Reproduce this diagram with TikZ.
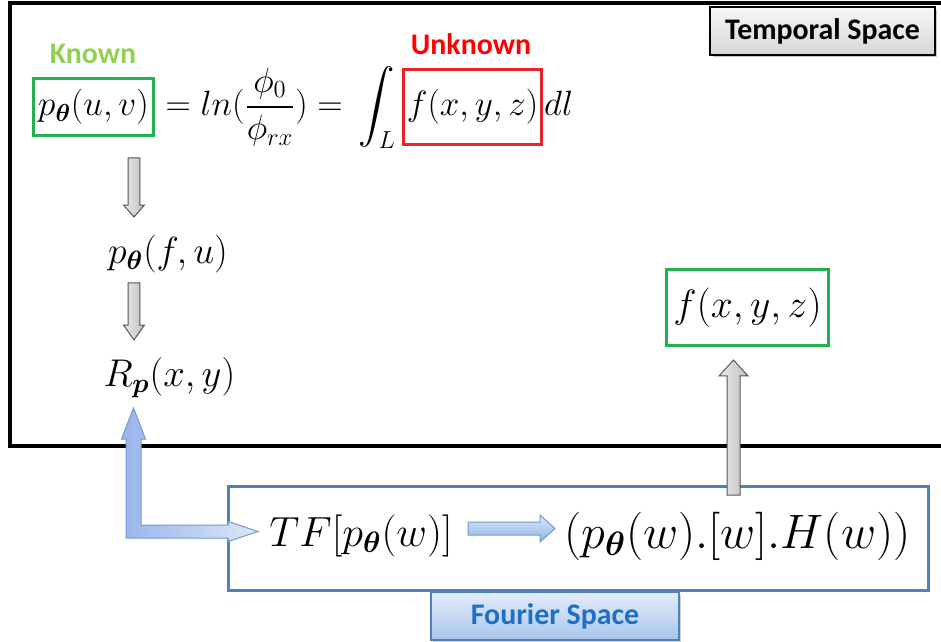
\RequirePackage{fix-cm}
\documentclass[tikz,border=0pt]{standalone}
\usepackage{fontspec}
\usepackage{amsmath}
\usepackage{bm}
\newfontfamily\calibfont{Carlito}
\usetikzlibrary{calc, positioning, shadows}
\definecolor{box-green}{HTML}{22B14C}
\definecolor{known-green}{HTML}{92D050}
\definecolor{box-red}{HTML}{E8232B}
\definecolor{unknown-red}{HTML}{FF0000}
\definecolor{fourier-blue}{HTML}{4F81BD}
\definecolor{fourier-text}{HTML}{1F6FC2}
\definecolor{tab-top}{HTML}{E3ECFA}
\definecolor{tab-bottom}{HTML}{A9C5EE}
\definecolor{arrow-dark}{HTML}{8DB3E2}
\definecolor{arrow-light}{HTML}{DDE8F8}
\definecolor{arrow-border}{HTML}{6C9BD2}
\definecolor{gray-light}{HTML}{EDEDED}
\definecolor{gray-dark}{HTML}{BDBDBD}
\definecolor{gray-border}{HTML}{555555}
% hollow block arrow: style, from, to, shaft half width, head half width, head length
\newcommand{\blockarrow}[6]{%
  \path[#1] ($(#2)!#4!90:(#3)$)
    -- ($(#3)!#6!(#2)!#4!-90:(#2)$)
    -- ($(#3)!#6!(#2)!#5!-90:(#2)$)
    -- (#3)
    -- ($(#3)!#6!(#2)!#5!90:(#2)$)
    -- ($(#3)!#6!(#2)!#4!90:(#2)$)
    -- ($(#2)!#4!-90:(#3)$) -- cycle;}
\tikzset{
  formula/.style={inner sep=0pt, font=\fontsize{#1}{#1}\selectfont},
  knownbox/.style={
    draw=box-green, line width=0.06cm, inner sep=0pt,
    minimum width=2.42cm, minimum height=1.16cm, font=\fontsize{20}{24}\selectfont
  },
  unknownbox/.style={
    draw=box-red, line width=0.06cm, inner xsep=0.06cm, inner ysep=0pt,
    minimum height=1.5cm, font=\fontsize{20}{24}\selectfont
  },
  resultbox/.style={
    draw=box-green, line width=0.06cm, inner sep=0pt,
    minimum width=3.26cm, minimum height=1.54cm, font=\fontsize{22.5}{27}\selectfont
  },
  tag/.style={font=\calibfont\bfseries\fontsize{17}{20}\selectfont, inner sep=0pt},
  spacetab/.style={
    draw=black, line width=0.03cm, top color=gray!6, bottom color=gray!32,
    minimum width=4.5cm, minimum height=0.96cm,
    drop shadow={opacity=0.45, shadow xshift=0.05cm, shadow yshift=-0.05cm},
    font=\calibfont\bfseries\fontsize{17}{20}\selectfont
  },
  fouriertab/.style={
    draw=fourier-blue, line width=0.03cm, top color=tab-top, bottom color=tab-bottom,
    minimum width=4.96cm, minimum height=0.96cm, text=fourier-text,
    drop shadow={opacity=0.35, shadow xshift=0.04cm, shadow yshift=-0.05cm},
    font=\calibfont\bfseries\fontsize{17}{20}\selectfont
  },
  grayarrow/.style={draw=gray-border, line width=0.02cm, left color=gray-light, right color=gray-dark},
  bluearrow/.style={draw=arrow-border, line width=0.02cm, top color=arrow-light, bottom color=arrow-dark},
  lshaft/.style={draw=arrow-border, line width=0.02cm, left color=arrow-dark!90!blue!80!white, right color=arrow-light}
}
\begin{document}
\begin{tikzpicture}[x=0.02cm, y=-0.02cm]
  \useasboundingbox (0,0) rectangle (941,642);

  % ---- temporal space frame ------------------------------------------------
  \draw[line width=0.07cm] (10,3) rectangle (960,446);
  \node[spacetab] (temporal) at (822.5,31) {Temporal Space};

  % ---- projection equation -------------------------------------------------
  \node[knownbox] (pu) at (93.5,107) {$p_{\bm{\theta}}(u,v)$};
  \node[formula=20, anchor=base west] (lneq) at (pu.base east)
        {$\displaystyle {}= ln(\frac{\phi_0}{\phi_{rx}}) = \,\int_L$};
  \node[unknownbox, anchor=base west] (fint) at ([xshift=0.12cm]lneq.base east) {$f(x,y,z)$};
  \node[formula=20, anchor=base west] (dl) at ([xshift=0.02cm]fint.base east) {$dl$};
  \node[tag, text=known-green] (known) at (93,54) {Known};
  \node[tag, text=unknown-red] (unknown) at (471,44) {Unknown};

  % ---- left column ---------------------------------------------------------
  \node[formula=21.5] (pfu) at (168,254) {$p_{\bm{\theta}}(f,u)$};
  \node[formula=22] (rp) at (169.5,377.5) {$R_{\bm{p}}(x,y)$};
  \coordinate (d1s) at (134,158);
  \coordinate (d1e) at (134,217);
  \coordinate (d2s) at (134,283);
  \coordinate (d2e) at (134,340);
  \blockarrow{grayarrow}{d1s}{d1e}{0.12cm}{0.21cm}{0.24cm}
  \blockarrow{grayarrow}{d2s}{d2e}{0.12cm}{0.21cm}{0.30cm}

  % ---- reconstruction ------------------------------------------------------
  \node[resultbox] (fxyz) at (747.5,307.5) {$f(x,y,z)$};

  % ---- fourier space -------------------------------------------------------
  \node[draw=fourier-blue, line width=0.06cm, minimum width=14.02cm, minimum height=2.1cm]
        (fourier) at (578.5,538.5) {};
  \node[formula=24] (tf) at (361,536) {$TF[p_{\bm{\theta}}(w)]$};
  \node[formula=27.5, anchor=west] (filt) at (564,536) {$(p_{\bm{\theta}}(w).[w].H(w))$};
  \node[fouriertab] (ftab) at (555,616) {Fourier Space};

  \coordinate (bs) at (468,528.5);
  \coordinate (be) at (555,528.5);
  \blockarrow{bluearrow}{bs}{be}{0.13cm}{0.27cm}{0.30cm}

  \coordinate (us) at (733.5,495);
  \coordinate (ue) at (733.5,360);
  \blockarrow{grayarrow}{us}{ue}{0.13cm}{0.29cm}{0.32cm}

  % ---- back projection link ------------------------------------------------
  \coordinate (lup) at (133.5,408);
  \coordinate (lright) at (258,531.5);
  \path[lshaft] (lup) -- ++(12,31) -- ++(-4.5,0) -- ++(0,86) -- ++(87,0)
        -- ++(0,-3.5) -- (lright) -- ++(-30,10) -- ++(0,-3.5) -- ++(-102,0)
        -- ++(0,-99) -- ++(-4.5,0) -- cycle;

\end{tikzpicture}
\end{document}
